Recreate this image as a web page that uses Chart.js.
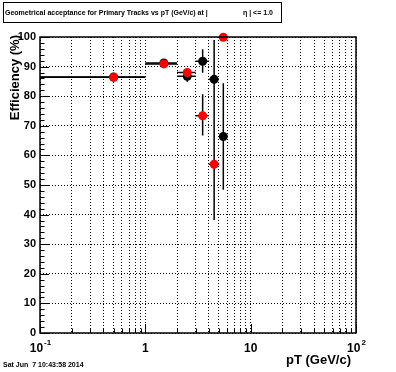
<!DOCTYPE html>
<html>
<head>
<meta charset="utf-8">
<script src="https://cdn.jsdelivr.net/npm/chart.js@4/dist/chart.umd.min.js"></script>
<style>
  body { margin: 0; background: #fff; }
  #wrap { width: 396px; height: 372px; }
</style>
</head>
<body>
<div id="wrap"><canvas id="effChart" width="396" height="372"></canvas></div>
<script>
/* data */
const ptCenter = [0.5, 1.5, 2.5, 3.5, 4.5, 5.5]
const ptLow = [0.1, 1, 2, 3, 4, 5]
const ptHigh = [1, 2, 3, 4, 5, 6]

const effBlack = [86.5, 91.2, 86.7, 91.8, 85.7, 66.4]
const errBlackDown = [0.3, 0.5, 1.8, 3.9, 47.5, 18]
const errBlackUp = [0.3, 0.5, 1.8, 4.1, 13.3, 18]

const effRed = [86.4, 90.9, 88.0, 73.4, 57.0, 99.9]
const errRedDown = [0.3, 0.5, 1.0, 6.7, 1.0, 0.1]
const errRedUp = [0.3, 0.5, 1.0, 7.3, 1.0, 0.1]

const xLabelValues = [0.1, 1, 10, 100]
const xLabelBase = ['10', '1', '10', '10']
const xLabelExp = ['-1', '', '', '2']

const titleLeft = 'Geometrical acceptance for Primary Tracks vs pT (GeV/c) at |'
const titleRight = '\u03B7 | <= 1.0'
const dateText = 'Sat Jun  7 10:43:58 2014'

const FONT = '"Liberation Sans", Arial, Helvetica, sans-serif'

function points(ys) {
    return ptCenter.map(function(x, i) { return { x: x, y: ys[i] } })
}

// all log ticks 0.1 .. 100
function logTicks() {
    let t = []
    for (let d = 0.1; d < 100; d *= 10) {
        for (let m = 1; m < 10; m++) t.push(+(m * d).toPrecision(3))
    }
    t.push(100)
    return t
}

const errorBars = {
    id: 'errorBars',
    beforeDatasetsDraw(chart) {
        const ctx = chart.ctx
        const xs = chart.scales.x
        const ys = chart.scales.y
        ctx.save()
        ctx.strokeStyle = '#000'
        ctx.lineWidth = 1.5
        chart.data.datasets.forEach(function(ds) {
            ds.data.forEach(function(p, i) {
                const px = xs.getPixelForValue(p.x)
                const py = ys.getPixelForValue(p.y)
                ctx.beginPath()
                ctx.moveTo(xs.getPixelForValue(ptLow[i]), py)
                ctx.lineTo(xs.getPixelForValue(ptHigh[i]), py)
                ctx.moveTo(px, ys.getPixelForValue(p.y + ds.errUp[i]))
                ctx.lineTo(px, ys.getPixelForValue(p.y - ds.errDown[i]))
                ctx.stroke()
            })
        })
        ctx.restore()
    }
}

const rootFrame = {
    id: 'rootFrame',
    afterDraw(chart) {
        const ctx = chart.ctx
        const a = chart.chartArea
        const xs = chart.scales.x
        const ys = chart.scales.y
        ctx.save()
        ctx.strokeStyle = '#000'
        ctx.fillStyle = '#000'

        // frame
        ctx.lineWidth = 1.5
        ctx.strokeRect(a.left, a.top, a.right - a.left, a.bottom - a.top)

        // ticks
        ctx.lineWidth = 1
        ctx.beginPath()
        for (let v = 0; v <= 100; v += 2) {
            const y = Math.round(ys.getPixelForValue(v)) + 0.5
            const len = v % 10 === 0 ? 9 : 4.5
            ctx.moveTo(a.left, y)
            ctx.lineTo(a.left + len, y)
        }
        logTicks().forEach(function(v) {
            const x = Math.round(xs.getPixelForValue(v)) + 0.5
            const len = xLabelValues.indexOf(v) >= 0 ? 9 : 4.5
            ctx.moveTo(x, a.bottom)
            ctx.lineTo(x, a.bottom - len)
        })
        ctx.stroke()

        // x labels with exponents
        ctx.textBaseline = 'alphabetic'
        xLabelValues.forEach(function(v, i) {
            ctx.font = 'bold 12px ' + FONT
            const wb = ctx.measureText(xLabelBase[i]).width
            ctx.font = 'bold 8px ' + FONT
            const we = ctx.measureText(xLabelExp[i]).width
            const x0 = xs.getPixelForValue(v) - (wb + we) / 2
            ctx.font = 'bold 12px ' + FONT
            ctx.textAlign = 'left'
            ctx.fillText(xLabelBase[i], x0, 352)
            if (xLabelExp[i]) {
                ctx.font = 'bold 8px ' + FONT
                ctx.fillText(xLabelExp[i], x0 + wb + 1, 345)
            }
        })

        // axis titles
        ctx.font = 'bold 13px ' + FONT
        ctx.textAlign = 'right'
        ctx.fillText('pT (GeV/c)', 351, 364)
        ctx.save()
        ctx.translate(19, 35)
        ctx.rotate(-Math.PI / 2)
        ctx.textAlign = 'right'
        ctx.fillText('Efficiency (%)', 0, 0)
        ctx.restore()

        // title box
        ctx.lineWidth = 1
        ctx.strokeRect(3.5, 2.5, 278, 20)
        ctx.font = 'bold 7px ' + FONT
        ctx.textAlign = 'left'
        ctx.textBaseline = 'middle'
        ctx.fillText(titleLeft, 5, 13)
        ctx.fillText(titleRight, 243, 13)

        // date
        ctx.font = 'bold 7px ' + FONT
        ctx.fillText(dateText, 3, 365)
        ctx.restore()
    }
}

const ctx = document.getElementById('effChart').getContext('2d')
const effChart = new Chart(ctx, {
    type: 'scatter',
    data: {
        datasets: [
        {
            label: 'red',
            data: points(effRed),
            errUp: errRedUp,
            errDown: errRedDown,
            backgroundColor: '#ff0000',
            borderWidth: 0,
            pointRadius: 4.5,
            clip: false,
            order: 0
        },
        {
            label: 'black',
            data: points(effBlack),
            errUp: errBlackUp,
            errDown: errBlackDown,
            backgroundColor: '#000000',
            borderWidth: 0,
            pointRadius: 4.5,
            clip: false,
            order: 1
        }]
    },
    options: {
        responsive: false,
        animation: false,
        devicePixelRatio: 1,
        layout: { padding: { top: 37, right: 40, left: 0, bottom: 0 } },
        plugins: { legend: { display: false }, tooltip: { enabled: false } },
        scales: {
            x: {
                type: 'logarithmic',
                min: 0.1,
                max: 100,
                afterBuildTicks: function(s) {
                    s.ticks = logTicks().map(function(v) { return { value: v } })
                },
                afterFit: function(s) { s.height = 39 },
                ticks: { display: false },
                grid: { color: '#000', lineWidth: 1, drawTicks: false },
                border: { display: false, dash: [1, 2] }
            },
            y: {
                min: 0,
                max: 100,
                afterFit: function(s) { s.width = 40 },
                ticks: {
                    stepSize: 10,
                    padding: 4,
                    color: '#000',
                    font: { family: FONT, size: 11, weight: 'bold' }
                },
                grid: { color: '#000', lineWidth: 1, drawTicks: false },
                border: { display: false, dash: [1, 2] }
            }
        }
    },
    plugins: [errorBars, rootFrame]
})
</script>
</body>
</html>
